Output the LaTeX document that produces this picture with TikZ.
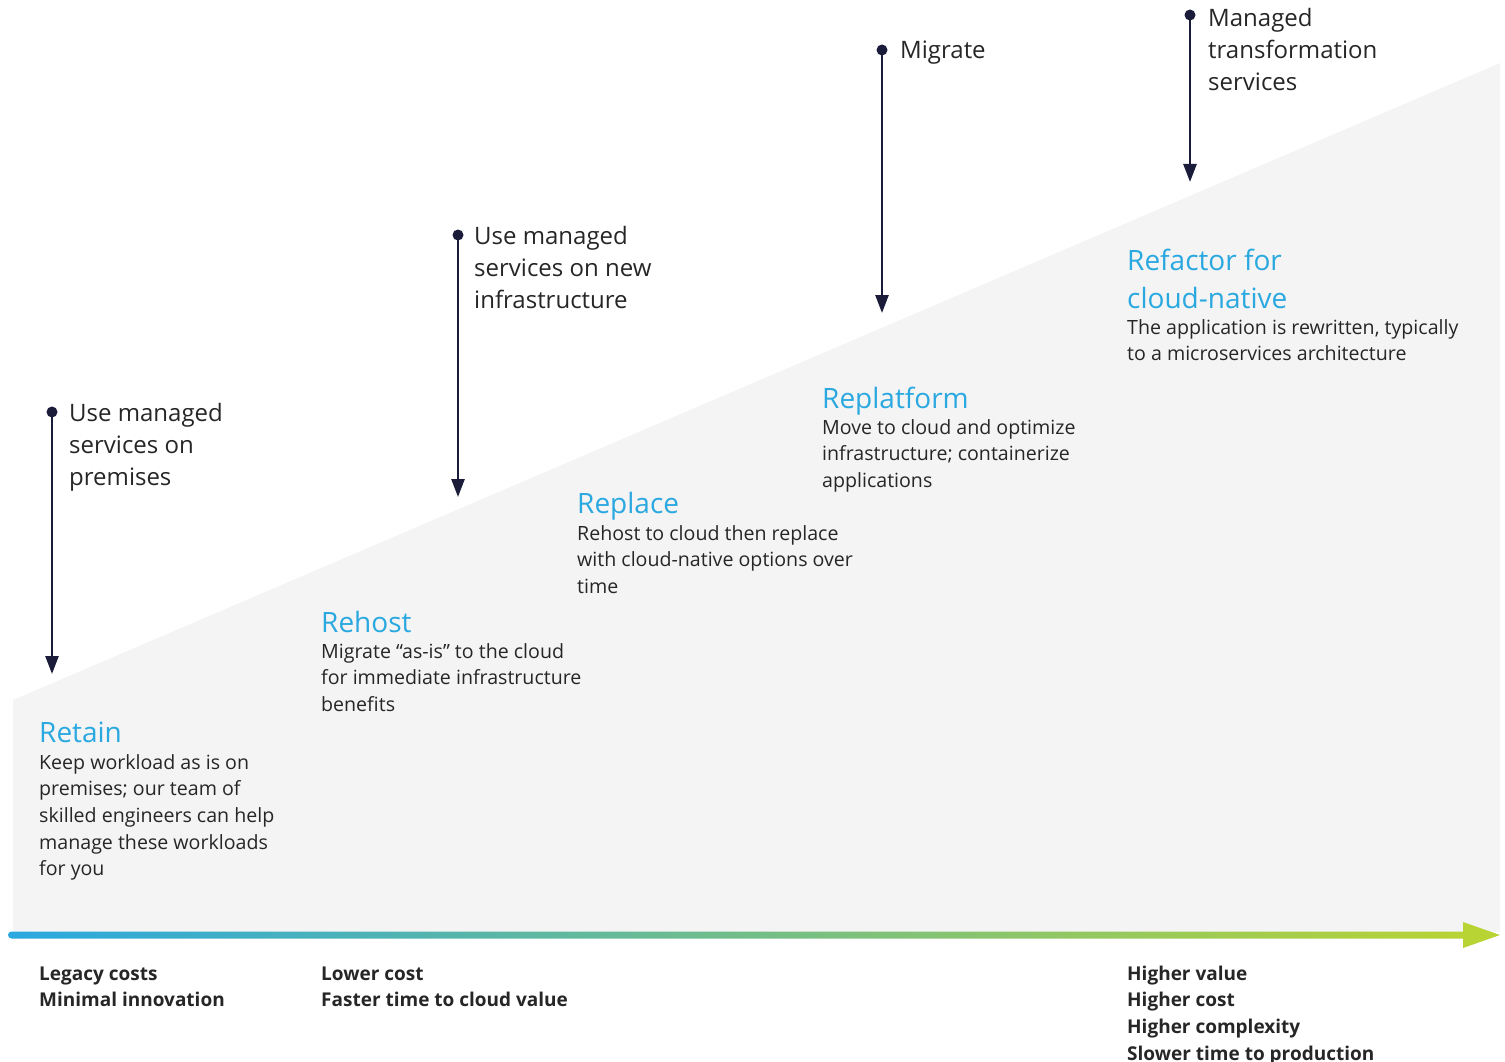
\documentclass[tikz,border=0pt]{standalone}
\usepackage{fontspec}
\setmainfont{Open Sans}
\usetikzlibrary{arrows.meta,positioning}
\definecolor{stepblue}{HTML}{2AA8E0}
\definecolor{stepgreen}{HTML}{B8D334}
\definecolor{bodygray}{HTML}{262626}
\definecolor{navy}{HTML}{1B1C3A}
\definecolor{slope}{HTML}{F4F4F4}
% lines stacked from the first baseline
\newcommand\lines[1]{\begin{tabular}[t]{@{}l@{}}#1\end{tabular}}
\tikzset{
  head/.style = {anchor=base west, inner sep=0, text=stepblue, font=\fontsize{28}{38}\selectfont},
  body/.style = {anchor=base west, inner sep=0, text=bodygray, font=\fontsize{19.6}{26.7}\selectfont},
  gain/.style = {anchor=base west, inner sep=0, text=bodygray, font=\fontsize{19}{26.7}\selectfont\bfseries},
  tag/.style = {anchor=base west, inner sep=0, text=bodygray, font=\fontsize{24}{32}\selectfont},
  dot/.style = {circle, fill=navy, inner sep=0, minimum size=11pt},
  drop/.style = {draw=navy, line width=2.6pt, -{Triangle[length=18pt,width=13pt]}}
}
\begin{document}
\begin{tikzpicture}[x=1pt, y=-1pt]
    \useasboundingbox (0,0) rectangle (1505,1062);
    % grey slope
    \fill[slope] (13,700) -- (1500,63) -- (1500,932) -- (13,932) -- cycle;

    % steps
    \node[head] (retain) at (39,742) {Retain};
    \node[body] (retaintxt) at ([yshift=-27pt]retain.base west) {\lines{Keep workload as is on\\premises; our team of\\skilled engineers can help\\manage these workloads\\for you}};
    \node[head] (rehost) at (321,632) {Rehost};
    \node[body] (rehosttxt) at ([yshift=-26pt]rehost.base west) {\lines{Migrate “as-is” to the cloud\\for immediate infrastructure\\benefits}};
    \node[head] (replace) at (577,513) {Replace};
    \node[body] (replacetxt) at ([yshift=-27pt]replace.base west) {\lines{Rehost to cloud then replace\\with cloud-native options over\\time}};
    \node[head] (replatform) at (822,408) {Replatform};
    \node[body] (replatformtxt) at ([yshift=-26pt]replatform.base west) {\lines{Move to cloud and optimize\\infrastructure; containerize\\applications}};
    \node[head] (refactor) at (1127,270) {\lines{Refactor for\\cloud-native}};
    \node[body] (refactortxt) at ([yshift=-64pt]refactor.base west) {\lines{The application is rewritten, typically\\to a microservices architecture}};

    % services
    \node[dot] (d1) at (52,412) {};
    \node[dot] (d2) at (458,235) {};
    \node[dot] (d3) at (882,50) {};
    \node[dot] (d4) at (1190,15) {};
    \coordinate (t1) at (52,674);
    \coordinate (t2) at (458,497);
    \coordinate (t3) at (882,313);
    \coordinate (t4) at (1190,182);
    \draw[drop] (d1.center) -- (t1);
    \draw[drop] (d2.center) -- (t2);
    \draw[drop] (d3.center) -- (t3);
    \draw[drop] (d4.center) -- (t4);
    \node[tag] (s1) at (69,421) {\lines{Use managed\\services on\\premises}};
    \node[tag] (s2) at (474,244) {\lines{Use managed\\services on new\\infrastructure}};
    \node[tag] (s3) at (900,59) {Migrate};
    \node[tag] (s4) at (1208,27) {\lines{Managed\\transformation\\services}};

    % value axis
    \shade[left color=stepblue, right color=stepgreen, rounded corners=3.5pt] (8,931.5) rectangle (1466,938.5);
    \fill[stepgreen] (1463,922) -- (1500,935) -- (1463,948) -- cycle;

    \node[gain] (g1) at (39,980) {\lines{Legacy costs\\Minimal innovation}};
    \node[gain] (g2) at (321,980) {\lines{Lower cost\\Faster time to cloud value}};
    \node[gain] (g3) at (1127,980) {\lines{Higher value\\Higher cost\\Higher complexity\\Slower time to production}};
\end{tikzpicture}
\end{document}
